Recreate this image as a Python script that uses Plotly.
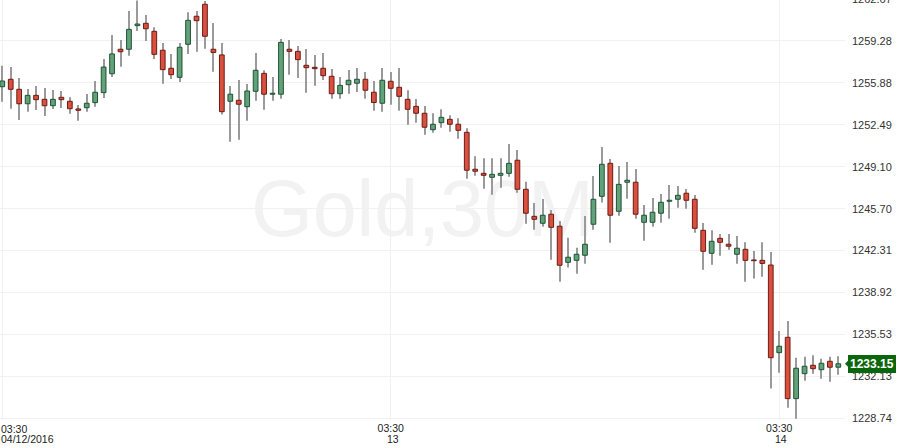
import plotly.graph_objects as go

# ---- data (Gold, 30-minute candles) ----
open_ = [
    1255.57, 1256.17, 1255.36, 1254.19, 1254.87, 1254.55, 1254.03, 1254.71, 1254.39, 1253.77,
    1253.87, 1254.28, 1255.09, 1256.62, 1258.60, 1258.60, 1260.51, 1260.70, 1260.05, 1258.52,
    1257.06, 1256.33, 1259.00, 1261.27, 1262.24, 1258.60, 1258.14, 1254.39, 1254.47, 1253.95,
    1255.20, 1256.65, 1254.96, 1254.96, 1258.60, 1258.43, 1257.30, 1257.14, 1257.06, 1256.41,
    1255.00, 1255.73, 1255.85, 1256.17, 1255.12, 1254.23, 1256.01, 1255.52, 1254.55, 1253.98,
    1253.42, 1252.09, 1252.66, 1252.93, 1252.53, 1251.88, 1248.89, 1248.56, 1248.24, 1248.40,
    1248.56, 1249.62, 1247.27, 1245.08, 1244.52, 1245.25, 1244.28, 1241.36, 1241.52, 1241.93,
    1244.44, 1246.70, 1249.37, 1245.49, 1247.84, 1247.84, 1244.60, 1244.60, 1245.33, 1246.30,
    1246.46, 1246.95, 1246.46, 1243.95, 1242.09, 1243.30, 1242.82, 1242.01, 1242.41, 1241.55,
    1241.52, 1241.14, 1234.05, 1235.29, 1230.33, 1232.35, 1233.03, 1232.67, 1233.35, 1232.87,
]
close = [
    1256.03, 1255.36, 1254.19, 1254.87, 1254.52, 1254.03, 1254.55, 1254.52, 1253.79, 1253.66,
    1254.23, 1255.12, 1257.16, 1258.22, 1258.40, 1260.21, 1260.64, 1260.26, 1258.19, 1256.95,
    1256.54, 1258.76, 1260.94, 1260.91, 1259.65, 1258.34, 1253.55, 1254.96, 1254.15, 1255.22,
    1256.90, 1254.96, 1255.04, 1259.16, 1258.43, 1257.76, 1257.11, 1257.03, 1256.46, 1255.00,
    1255.68, 1256.09, 1256.17, 1255.28, 1254.29, 1256.09, 1255.44, 1254.79, 1253.74, 1253.42,
    1252.29, 1252.53, 1253.09, 1252.53, 1252.04, 1248.81, 1248.73, 1248.40, 1248.48, 1248.56,
    1249.37, 1247.27, 1245.33, 1244.84, 1245.17, 1244.19, 1241.12, 1241.77, 1242.01, 1242.82,
    1246.46, 1249.29, 1245.17, 1247.67, 1248.00, 1245.25, 1245.17, 1245.41, 1246.22, 1246.38,
    1246.78, 1246.38, 1244.11, 1242.25, 1243.06, 1242.98, 1242.66, 1242.50, 1241.52, 1241.49,
    1241.27, 1233.64, 1234.57, 1230.33, 1232.79, 1232.95, 1232.75, 1233.19, 1232.87, 1233.15,
]
high = [
    1257.27, 1257.16, 1256.27, 1255.38, 1255.63, 1255.47, 1255.30, 1255.22, 1254.71, 1254.09,
    1254.98, 1256.03, 1257.81, 1259.75, 1259.35, 1261.70, 1262.55, 1261.37, 1260.38, 1259.11,
    1258.22, 1259.11, 1261.59, 1261.70, 1262.50, 1260.72, 1259.11, 1255.63, 1256.11, 1255.79,
    1258.30, 1256.90, 1256.36, 1259.43, 1259.35, 1258.86, 1258.62, 1258.14, 1258.30, 1257.00,
    1256.36, 1256.92, 1257.08, 1256.76, 1256.03, 1257.08, 1256.76, 1257.08, 1255.28, 1254.58,
    1254.01, 1253.42, 1253.74, 1253.26, 1253.01, 1252.20, 1249.94, 1249.78, 1249.78, 1249.78,
    1250.93, 1250.45, 1247.88, 1246.16, 1246.48, 1245.59, 1244.70, 1243.35, 1242.54, 1245.11,
    1248.35, 1250.69, 1249.72, 1249.15, 1249.48, 1248.91, 1246.00, 1246.57, 1246.89, 1247.62,
    1247.54, 1247.29, 1246.81, 1244.54, 1243.95, 1243.65, 1243.65, 1243.49, 1242.98, 1242.28,
    1242.98, 1242.20, 1235.80, 1236.61, 1233.64, 1233.72, 1233.84, 1233.56, 1233.72, 1233.76,
]
low = [
    1254.36, 1253.79, 1252.88, 1253.55, 1253.69, 1253.20, 1253.77, 1253.85, 1253.39, 1252.82,
    1253.55, 1253.95, 1254.66, 1256.36, 1257.19, 1258.08, 1260.08, 1259.27, 1257.81, 1255.81,
    1256.19, 1255.95, 1258.22, 1258.40, 1258.65, 1256.78, 1253.31, 1251.12, 1251.28, 1252.82,
    1254.44, 1253.71, 1254.44, 1254.60, 1256.54, 1256.27, 1255.09, 1255.65, 1256.11, 1254.60,
    1254.60, 1255.00, 1255.14, 1254.60, 1253.63, 1253.55, 1254.11, 1253.63, 1252.50, 1252.66,
    1251.69, 1251.85, 1252.25, 1251.93, 1251.36, 1248.13, 1248.37, 1247.32, 1246.83, 1247.40,
    1248.29, 1246.99, 1244.49, 1244.00, 1244.24, 1241.57, 1239.79, 1240.93, 1240.44, 1241.25,
    1244.00, 1246.19, 1242.95, 1245.13, 1246.51, 1244.89, 1243.11, 1244.24, 1244.57, 1244.89,
    1245.78, 1245.70, 1243.76, 1240.76, 1241.17, 1241.90, 1242.38, 1241.25, 1239.79, 1240.04,
    1240.20, 1231.14, 1232.43, 1229.60, 1228.71, 1231.78, 1232.35, 1231.94, 1231.70, 1232.27,
]

x_tick_positions = [0, 46, 92]
x_tick_times = ["03:30", "03:30", "03:30"]
x_tick_dates = ["04/12/2016", "13", "14"]
y_tick_values = [1228.74, 1232.13, 1235.53, 1238.92, 1242.31, 1245.70,
                 1249.10, 1252.49, 1255.88, 1259.28]
y_top_label = 1262.67
y_range = [1228.60, 1262.585]
x_range = [-0.27, 99.79]
watermark = "Gold,30M"

# ---- styling ----
UP_FILL, UP_LINE = "#62a27a", "#1f5234"
DN_FILL, DN_LINE = "#d9503f", "#6e1a14"
WICK = "#9a9a9a"
GRID = "#f1f1f1"
TAG = "#0a660a"
FONT = "Liberation Sans, Arial, sans-serif"
XFONT = dict(size=10.5, color="#222222", family=FONT)
YFONT = dict(size=11, color="#333333", family=FONT)

n = len(close)
idx = list(range(n))
is_up = [c >= o for o, c in zip(open_, close)]
body_base = [min(o, c) for o, c in zip(open_, close)]
body_h = [abs(c - o) for o, c in zip(open_, close)]
wick_h = [h - l for h, l in zip(high, low)]

fig = go.Figure()
fig.add_trace(go.Bar(
    x=idx, y=wick_h, base=low, width=0.12,
    marker=dict(color=WICK, line=dict(width=0)), hoverinfo="skip",
))
fig.add_trace(go.Bar(
    x=idx, y=body_h, base=body_base, width=0.56,
    marker=dict(
        color=[UP_FILL if u else DN_FILL for u in is_up],
        line=dict(color=[UP_LINE if u else DN_LINE for u in is_up], width=1),
    ),
))

fig.update_layout(
    width=900, height=448,
    margin=dict(l=0, r=55, t=0, b=28, autoexpand=False),
    plot_bgcolor="white", paper_bgcolor="white",
    showlegend=False, barmode="overlay",
    font=dict(family=FONT, color="#333333"),
)
fig.update_xaxes(
    range=x_range, tickvals=x_tick_positions,
    ticktext=[""] + x_tick_times[1:],
    showgrid=True, gridcolor=GRID, gridwidth=1, zeroline=False, showline=False,
    ticks="", tickfont=XFONT, automargin=False,
)
fig.update_yaxes(
    range=y_range, side="right", tickvals=y_tick_values,
    ticktext=[f"{v:.2f}" for v in y_tick_values],
    showgrid=True, gridcolor=GRID, gridwidth=1, zeroline=False, showline=False,
    ticks="", tickfont=YFONT, ticklabelstandoff=6, automargin=False,
)

# watermark
fig.add_shape(
    type="rect", xref="paper", yref="paper", x0=0, x1=1, y0=0, y1=1.04,
    line=dict(width=0), fillcolor="rgba(0,0,0,0)", layer="below",
    label=dict(text=watermark, textposition="middle center",
               font=dict(size=79, color="#f2f2f2", family=FONT)),
)

# first x label time (left aligned at the edge)
fig.add_annotation(
    xref="paper", yref="paper", x=0, y=0, xanchor="left", yanchor="top",
    text=x_tick_times[0], showarrow=False, font=XFONT, xshift=-1, yshift=-1,
)
# date row under the times
for i, (pos, d) in enumerate(zip(x_tick_positions, x_tick_dates)):
    if i == 0:
        fig.add_annotation(
            xref="paper", yref="paper", x=0, y=0, xanchor="left", yanchor="top",
            text=d, showarrow=False, font=XFONT, xshift=-1, yshift=-11,
        )
    else:
        fig.add_annotation(
            xref="x", yref="paper", x=pos, y=0, xanchor="center", yanchor="top",
            text=d, showarrow=False, font=XFONT, xshift=2, yshift=-11,
        )

# clipped top y label
fig.add_annotation(
    xref="paper", yref="paper", x=1, xanchor="left", xshift=5,
    y=(y_top_label - y_range[0]) / (y_range[1] - y_range[0]), yanchor="middle",
    text=f"{y_top_label:.2f}", showarrow=False, font=YFONT,
)

# last price tag
fig.add_annotation(
    xref="paper", x=1, xanchor="left", xshift=3,
    yref="y", y=close[-1], yanchor="middle",
    text=f"<b>{close[-1]:.2f}</b>", showarrow=False,
    bgcolor=TAG, bordercolor=TAG, borderwidth=1, borderpad=1,
    font=dict(size=12, color="white", family=FONT),
)
fig.add_shape(
    type="path", xref="paper", xsizemode="pixel", xanchor=1,
    yref="y", ysizemode="pixel", yanchor=close[-1],
    path="M0,0 L5,5 L5,-5 Z", fillcolor=TAG, line=dict(width=0), layer="above",
)

fig.write_html(
    "out.html",
    config={"displayModeBar": False},
    post_script="document.body.style.margin='0';document.body.style.padding='0';",
)
